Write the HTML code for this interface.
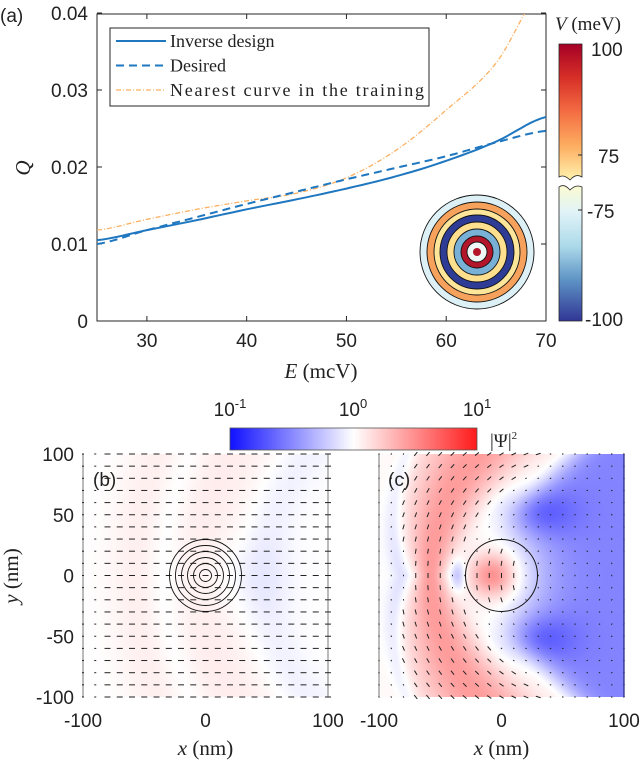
<!DOCTYPE html>
<html><head><meta charset="utf-8">
<style>
html,body{margin:0;padding:0;background:#fff;}
body{width:640px;height:762px;position:relative;overflow:hidden;font-family:"Liberation Sans",sans-serif;}
svg{position:absolute;left:0;top:0;}
canvas{position:absolute;}
.t{font-family:"Liberation Sans",sans-serif;font-size:19px;fill:#222;}
.s{font-family:"Liberation Serif",serif;fill:#222;}
</style></head><body>
<canvas id="cvb" width="245" height="243" style="left:83px;top:454px"></canvas>
<canvas id="cvc" width="245" height="243" style="left:379px;top:454px"></canvas>
<svg id="mainsvg" width="640" height="762" xmlns="http://www.w3.org/2000/svg">
<defs>
<linearGradient id="vtop" x1="0" y1="0" x2="0" y2="1">
<stop offset="0" stop-color="#a50026"/><stop offset="0.25" stop-color="#d73027"/><stop offset="0.5" stop-color="#f46d43"/><stop offset="0.75" stop-color="#fdae61"/><stop offset="1" stop-color="#fff3b0"/></linearGradient>
<linearGradient id="vbot" x1="0" y1="0" x2="0" y2="1">
<stop offset="0" stop-color="#fbfbd0"/><stop offset="0.2" stop-color="#e0f3f8"/><stop offset="0.45" stop-color="#abd9e9"/><stop offset="0.7" stop-color="#5d92c4"/><stop offset="1" stop-color="#313695"/></linearGradient>
<linearGradient id="psi" x1="0" y1="0" x2="1" y2="0">
<stop offset="0" stop-color="#1010ff"/><stop offset="0.5" stop-color="#ffffff"/><stop offset="1" stop-color="#ff1a1a"/></linearGradient>
<clipPath id="clipA"><rect x="97" y="14" width="449" height="307"/></clipPath>
</defs>
<g id="panelA"></g>
<g id="panelB"></g>
</svg>
<script>
// ---- Panel (a) data ----
const energies=[25,30,35,40,45,50,55,60,65,70];
const inverseQ=[0.0105,0.0118,0.0131,0.0145,0.0158,0.0172,0.0188,0.0208,0.0233,0.0265];
const desiredQ=[0.0100,0.0118,0.0135,0.0152,0.0168,0.0184,0.0199,0.0214,0.0232,0.0247];
const nearestQ=[0.0118,0.0132,0.0145,0.0156,0.0166,0.0186,0.0222,0.0274,0.0335,0.0440];
const xTicksA=[30,40,50,60,70];
const yTicksA=[0,0.01,0.02,0.03,0.04];
const yTickLabelsA=["0","0.01","0.02","0.03","0.04"];
const ringRadii=[57,50,43,37,30,23,16,10,4];
const ringColors=["#dcf0f6","#f6a25c","#fde59a","#2f3c95","#fddf8e","#79b0d5","#b3152b","#eef7f6","#b3152b"];
const fieldTicks=[-100,-50,0,50,100];

const NS="http://www.w3.org/2000/svg";
function mk(tag,attrs,parent,text){const e=document.createElementNS(NS,tag);for(const k in attrs)e.setAttribute(k,attrs[k]);if(text!==undefined)e.textContent=text;parent.appendChild(e);return e;}
function sq(v){return v*v;}
const PA=document.getElementById('panelA');
const xs=E=>97+(E-25)*(449/45);
const ys=q=>321-q*7700;

let bx=mk('rect',{x:97,y:14,width:449,height:307,fill:'none',stroke:'#262626','stroke-width':1},PA);


xTicksA.forEach(v=>{const x=xs(v);
 mk('line',{x1:x,y1:321,x2:x,y2:316,stroke:'#262626'},PA);mk('line',{x1:x,y1:14,x2:x,y2:19,stroke:'#262626'},PA);
 const t=mk('text',{x:x,y:347,'text-anchor':'middle',class:'t'},PA,String(v));
 
 });
yTicksA.forEach((v,i)=>{const y=ys(v);
 mk('line',{x1:97,y1:y,x2:102,y2:y,stroke:'#262626'},PA);mk('line',{x1:546,y1:y,x2:541,y2:y,stroke:'#262626'},PA);
 const t=mk('text',{x:88,y:y+7,'text-anchor':'end',class:'t'},PA,yTickLabelsA[i]);
 
 });
let xl=mk('text',{x:321,y:378,'text-anchor':'middle',class:'s','font-size':21},PA);
mk('tspan',{'font-style':'italic'},xl,'E');mk('tspan',{},xl,' (mcV)');


let yl=mk('text',{x:0,y:0,'text-anchor':'middle',class:'s','font-size':21,'font-style':'italic',transform:'translate(30,168) rotate(-90)'},PA,'Q');


let pa=mk('text',{x:0,y:22,class:'t','font-size':24},PA,'(a)');



function smooth(arr){const pts=[];for(let i=0;i<energies.length-1;i++){for(let s=0;s<10;s++){const t=s/10;
 const p0=arr[Math.max(i-1,0)],p1=arr[i],p2=arr[i+1],p3=arr[Math.min(i+2,arr.length-1)];
 const q=0.5*((2*p1)+(-p0+p2)*t+(2*p0-5*p1+4*p2-p3)*t*t+(-p0+3*p1-3*p2+p3)*t*t*t);
 const e=energies[i]+(energies[i+1]-energies[i])*t;
 pts.push([xs(e),ys(q)]);}}
 pts.push([xs(energies[energies.length-1]),ys(arr[arr.length-1])]);
 return pts.map((p,i)=>(i?'L':'M')+p[0].toFixed(1)+','+p[1].toFixed(1)).join('');}
const cg=mk('g',{'clip-path':'url(#clipA)'},PA);
let l3=mk('path',{d:smooth(nearestQ),fill:'none',stroke:'#fdb062','stroke-width':1.3,'stroke-dasharray':'5,2,1,2'},cg);


let l1=mk('path',{d:smooth(inverseQ),fill:'none',stroke:'#1f77c0','stroke-width':2},cg);


let l2=mk('path',{d:smooth(desiredQ),fill:'none',stroke:'#1f77c0','stroke-width':2,'stroke-dasharray':'8,5'},cg);



const LG=mk('g',{},PA);


mk('rect',{x:110,y:28,width:319,height:78,fill:'#fff',stroke:'#262626'},LG);
const leg=[['Inverse design','#1f77c0',2,'none'],['Desired','#1f77c0',2,'8,5'],['Nearest curve in the training','#fdb062',1.3,'5,2,1,2']];
leg.forEach((l,i)=>{const y=41+i*24.5;
 const ln=mk('line',{x1:116,y1:y,x2:166,y2:y,stroke:l[1],'stroke-width':l[2],'stroke-dasharray':l[3]},LG);
 
 
 const t=mk('text',{x:170,y:y+6,class:'s','font-size':18},LG,l[0]);
 if(i==2)t.setAttribute('textLength','254');
 
 });

const RG=mk('g',{},PA);


ringRadii.forEach((r,i)=>{const c=mk('circle',{cx:477,cy:252,r:r,fill:ringColors[i],stroke:'#111','stroke-width':i<8?0.9:0},RG);
 
 });

const CBg=mk('g',{},PA);


mk('path',{d:'M559,44 H582 V177 Q576,173 570,180 Q564,174 559,177 Z',fill:'url(#vtop)',stroke:'#262626','stroke-width':0.8},CBg);
mk('path',{d:'M559,187 Q564,183 570,190 Q576,184 582,187 V321 H559 Z',fill:'url(#vbot)',stroke:'#262626','stroke-width':0.8},CBg);
mk('line',{x1:582,y1:155,x2:578,y2:155,stroke:'#262626'},CBg);mk('line',{x1:582,y1:210,x2:578,y2:210,stroke:'#262626'},CBg);
[['100',591,56],['75',598,163],['-75',587,218],['-100',585,326]].forEach(a=>{const t=mk('text',{x:a[1],y:a[2],class:'t'},CBg,a[0]);
 
 });
let vt=mk('text',{x:555,y:30,class:'s','font-size':19},CBg);
mk('tspan',{'font-style':'italic'},vt,'V');mk('tspan',{},vt,' (meV)');



// ---- Panels (b),(c) ----
const PB=document.getElementById('panelB');
const fxB=v=>83+(v+100)*(245/200), fxC=v=>379+(v+100)*(245/200), fy=v=>697-(v+100)*(243/200);
let psiBar=mk('rect',{x:230,y:428,width:247,height:22,fill:'url(#psi)',stroke:'#555','stroke-width':0.8},PB);


[['10',230,'-1'],['10',353,'0'],['10',477,'1']].forEach(a=>{const t=mk('text',{x:a[1],y:416,'text-anchor':'middle',class:'t'},PB);
 mk('tspan',{},t,a[0]);mk('tspan',{dy:-8,'font-size':13},t,a[2]);
 
 });
let pt=mk('text',{x:490,y:447,class:'s','font-size':19},PB);
mk('tspan',{},pt,'|Ψ|');mk('tspan',{dy:-8,'font-size':11},pt,'2');



function paint(id,fn){const c=document.getElementById(id),ctx=c.getContext('2d'),im=ctx.createImageData(245,243);
 for(let j=0;j<243;j++)for(let i=0;i<245;i++){let v=Math.max(-1,Math.min(1,fn(i,j)));let r,g,b;
 if(v>=0){r=255;g=255*(1-0.78*v);b=g;}else{r=255*(1-0.88*(-v));g=r;b=255;}
 const k=(j*245+i)*4;im.data[k]=r;im.data[k+1]=g;im.data[k+2]=b;im.data[k+3]=255;}
 ctx.putImageData(im,0,0);}
paint('cvb',(i,j)=>{const x=i,y=j-121;const d=Math.hypot(x-380,y);
 let v=0.09*Math.exp(-sq((d-260)/45))+0.07*Math.exp(-sq((d-330)/30))-0.07*Math.exp(-sq((d-200)/25))-0.06*Math.exp(-sq((d-300)/15));
 v-=0.06*Math.exp(-(sq((x-160)/50)+sq(y/40)));return v;});
function bandU(x,y){return x-(51+0.00307*y*y);}
function bandW(y){return 14+0.33*Math.abs(y);}
paint('cvc',(i,j)=>{const x=i,y=j-121;const u=bandU(x,y),w=bandW(y);
 let v=0.5*Math.exp(-sq(u/w));
 const edge=u-w-22;
 let blue=(edge>0?1-Math.exp(-sq(edge/30)):0)*0.55;
 blue+=0.35*Math.exp(-(sq((x-150)/40)+sq((Math.abs(y)-62)/24)));
 blue*=1-Math.exp(-(sq((x-118)/48)+sq(y/60)));
 v-=blue;
 v+=0.55*Math.exp(-(sq((x-112)/22)+sq(y/22)));
 v-=0.3*Math.exp(-(sq((x-78)/8)+sq(y/16)));
 v-=0.14*Math.exp(-sq((u+w+14)/10));
 return v;});

function axesBC(fx,showY,name){
 const g=mk('g',{},PB);
 
 
 mk('line',{x1:fx(100),y1:454,x2:fx(100),y2:697,stroke:'#777','stroke-width':1},g);
 mk('line',{x1:fx(-100),y1:454,x2:fx(-100),y2:697,stroke:'#777','stroke-width':1},g);
 fieldTicks.forEach(v=>{if(v===-100||v===0||v===100){const t=mk('text',{x:fx(v),y:727,'text-anchor':'middle',class:'t'},g,String(v));
  
  }});
 const xt=mk('text',{x:fx(0),y:755,'text-anchor':'middle',class:'s','font-size':21},g);
 mk('tspan',{'font-style':'italic'},xt,'x');mk('tspan',{},xt,' (nm)');
 
 
 if(showY){fieldTicks.forEach(v=>{const t=mk('text',{x:74,y:fy(v)+7,'text-anchor':'end',class:'t'},g,String(v));
  
  });
  const yt=mk('text',{x:0,y:0,'text-anchor':'middle',class:'s','font-size':21,transform:'translate(18,576) rotate(-90)'},g);
  mk('tspan',{'font-style':'italic'},yt,'y');mk('tspan',{},yt,' (nm)');
  
  }
 return g;}
const gb=axesBC(fxB,true,'panel-b-axes'), gc=axesBC(fxC,false,'panel-c-axes');
for(let r=0;r<21;r++){const y=fy(100-r*10);for(let c=0;c<21;c++){const x=fxB(-100+c*10);const len=c<2?2:6;
 mk('line',{x1:x-len/2,y1:y,x2:x+len/2,y2:y,stroke:'#222','stroke-width':1},gb);}}
for(let k=1;k<=6;k++)mk('circle',{cx:fxB(0),cy:fy(0),r:k*6,fill:'none',stroke:'#111','stroke-width':0.9},gb);
for(let r=0;r<21;r++){const yv=100-r*10,y=fy(yv);for(let c=0;c<21;c++){const xv=-100+c*10,x=fxC(xv);
 const px=(xv+100)*1.225,py=-yv*1.215;const u=bandU(px,py),w=bandW(py);
 let len=Math.abs(u)<w*1.2?5:1.5;if(Math.hypot(xv+5,yv)<22)len=5;
 const ang=Math.atan2(yv,xv-60)+Math.PI/2;const dx=Math.cos(ang)*len/2,dy=-Math.sin(ang)*len/2;
 mk('line',{x1:x-dx,y1:y-dy,x2:x+dx,y2:y+dy,stroke:'#222','stroke-width':1},gc);}}
mk('circle',{cx:fxC(0),cy:fy(0),r:36,fill:'none',stroke:'#111','stroke-width':1},gc);
mk('line',{x1:fxC(100),y1:454,x2:fxC(100),y2:697,stroke:'#22227a','stroke-width':1.2},gc);
let lb=mk('text',{x:93,y:486,class:'t','font-size':24},PB,'(b)');


let lc=mk('text',{x:388,y:486,class:'t','font-size':24},PB,'(c)');


</script>
</body></html>
